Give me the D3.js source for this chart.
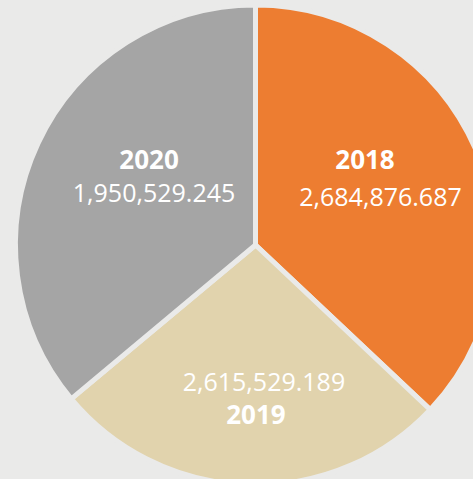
<!DOCTYPE html>
<html>
<head>
<meta charset="utf-8">
<script src="https://cdn.jsdelivr.net/npm/d3@7"></script>
<style>
  html, body { margin: 0; padding: 0; background: #EAEAE9; }
  svg { display: block; }
</style>
</head>
<body>
<svg id="chart" width="473" height="479"></svg>
<script>
// Labels as printed on the chart (clockwise from 12 o'clock)
const years = ["2018", "2019", "2020"];
const labelValues = [2684876.687, 2615529.189, 1950529.245];
// Slice sizes as drawn (clockwise from 12 o'clock); the original chart
// draws the bottom slice with the smaller value and the left slice with the larger.
const sliceValues = [2684876.687, 1950529.245, 2615529.189];
const colors = ["#ED7D31", "#E1D3AD", "#A5A5A5"];

const W = 473, H = 479;
const cx = 255.5, cy = 245, R = 240;
const bg = "#EAEAE9";

const svg = d3.select("#chart");
svg.append("rect").attr("width", W).attr("height", H).attr("fill", bg);

const g = svg.append("g").attr("transform", `translate(${cx},${cy})`);

const pie = d3.pie().sort(null).value(d => d);
const arcs = pie(sliceValues);
const arc = d3.arc().innerRadius(0).outerRadius(R);
const labelArc = d3.arc().innerRadius(R * 0.55).outerRadius(R * 0.55);

g.selectAll("path.slice")
  .data(arcs)
  .join("path")
  .attr("class", "slice")
  .attr("d", arc)
  .attr("fill", (d, i) => colors[i])
  .attr("stroke", bg)
  .attr("stroke-width", 5)
  .attr("stroke-linejoin", "miter");

const fmt = d3.format(",.3f");
// per-slot label tweaks relative to the arc centroid: [yearDx, yearDy, valueDx, valueDy]
const tweak = [
  [-11.7, -23.7, 3.8, 13.3],
  [4.4, 47.5, 12.4, 14.5],
  [13.1, -20, 18.1, 13]
];

const labels = g.selectAll("g.lbl")
  .data(arcs)
  .join("g")
  .attr("class", "lbl")
  .attr("transform", d => `translate(${labelArc.centroid(d)})`);

labels.append("text")
  .attr("x", (d, i) => tweak[i][0])
  .attr("y", (d, i) => tweak[i][1])
  .attr("text-anchor", "middle")
  .attr("font-family", "'Open Sans', sans-serif")
  .attr("font-weight", 700)
  .attr("font-size", 26)
  .attr("fill", "#FFFFFF")
  .text((d, i) => years[i]);

labels.append("text")
  .attr("x", (d, i) => tweak[i][2])
  .attr("y", (d, i) => tweak[i][3])
  .attr("text-anchor", "middle")
  .attr("font-family", "'Open Sans', sans-serif")
  .attr("font-weight", 400)
  .attr("font-size", 25)
  .attr("fill", "#FFFFFF")
  .text((d, i) => fmt(labelValues[i]));
</script>
</body>
</html>
